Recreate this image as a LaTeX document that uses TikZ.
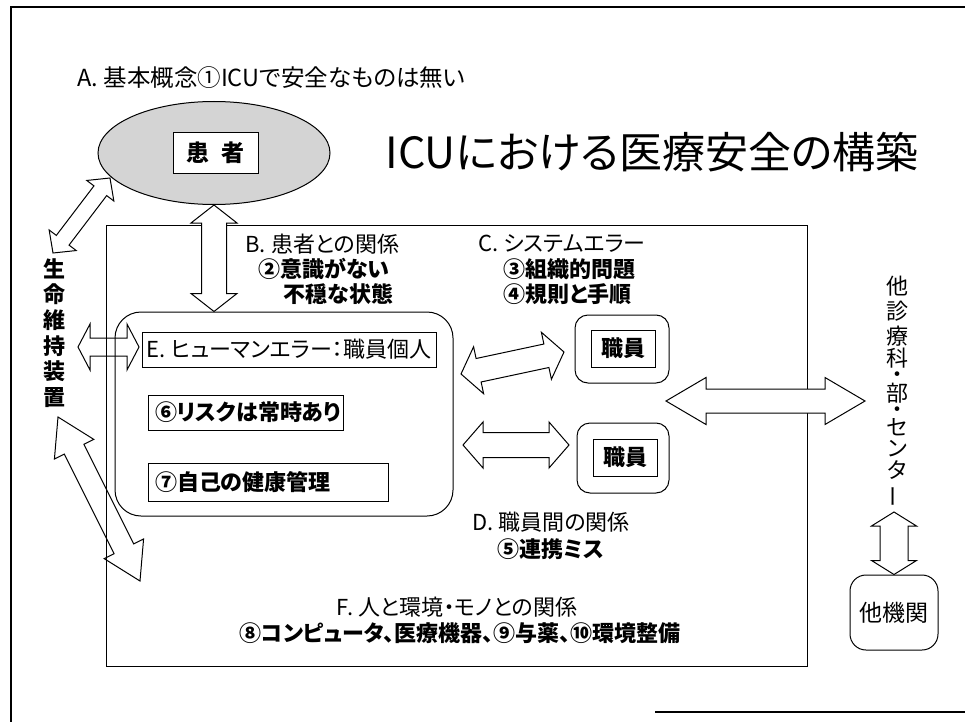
\documentclass[tikz,border=0pt]{standalone}
\usepackage{fontspec}
\setmainfont{Noto Sans CJK JP}[RawFeature=+palt]
\usetikzlibrary{calc,shapes.geometric}
\newcommand\fatarrow[6][]{%
  \path ($(#2)!#6!(#3)$) coordinate (fa1) ($(#3)!#6!(#2)$) coordinate (fa2);
  \draw[fatarrow style,#1] (#2) -- ($(fa1)!#5!90:(#3)$) -- ($(fa1)!#4!90:(#3)$)
    -- ($(fa2)!#4!-90:(#2)$) -- ($(fa2)!#5!-90:(#2)$) -- (#3)
    -- ($(fa2)!#5!90:(#2)$) -- ($(fa2)!#4!90:(#2)$)
    -- ($(fa1)!#4!-90:(#3)$) -- ($(fa1)!#5!-90:(#3)$) -- cycle;}
\begin{document}
\begin{tikzpicture}[x=1pt,y=-1pt,line width=1pt,
  body/.style={font=\fontsize{22}{26}\selectfont, inner sep=0pt},
  bbody/.style={font=\fontsize{22}{26}\selectfont\bfseries, inner sep=0pt},
  fatarrow style/.style={draw=black, line width=1pt, fill=white, line join=miter},
  boxed/.style={draw, fill=white, inner sep=0pt},
  rbox/.style={draw, rounded corners=#1, inner sep=0pt},
]
\useasboundingbox (0,0) rectangle (965,722);
\fill[white] (0,0) rectangle (965,722);
% slide border
\draw[line width=2pt] (965,7) -- (11,7) -- (11,722);
\draw[line width=1.6pt] (655,712) -- (965,712);

% titles
\node[anchor=west, inner sep=0pt, font=\fontsize{23.5}{24}\selectfont] (ta) at (77,78) {A. 基本概念①ICUで安全なものは無い};
\node[inner sep=0pt, font=\fontsize{43}{43}\selectfont] (title) at (652,152) {ICUにおける医療安全の構築};

% frame F
\node[draw, minimum width=701, minimum height=441, inner sep=0pt] (frame) at (456.5,445.5) {};

% patient
\node[ellipse, draw, fill=black!17, minimum width=232, minimum height=103, inner sep=0pt] (pat) at (214,153) {};
\node[boxed, minimum width=85, minimum height=40, font=\fontsize{23}{23}\selectfont\bfseries] (patbox) at (215.5,153) {患\hspace{0.55em}者};

% human error box E
\node[rbox=26, minimum width=338, minimum height=204] (ebox) at (284,414) {};
\node[draw, minimum width=294, minimum height=35, inner sep=0pt, body] (elab) at (289,349.5) {E. ヒューマンエラー：職員個人};
\node[draw, minimum width=195, minimum height=35, inner sep=0pt, bbody] (r6) at (245.5,412.5) {\makebox[181pt][l]{⑥リスクは常時あり}};
\node[draw, minimum width=240, minimum height=38, inner sep=0pt, bbody] (r7) at (268,482) {\makebox[226pt][l]{⑦自己の健康管理}};

% staff boxes
\node[rbox=13, minimum width=94, minimum height=68] (s1) at (622,349) {};
\node[draw, minimum width=64, minimum height=37, inner sep=0pt, bbody] (s1in) at (623,348.5) {職員};
\node[rbox=13, minimum width=92, minimum height=70] (s2) at (623,458) {};
\node[draw, minimum width=64, minimum height=37, inner sep=0pt, bbody] (s2in) at (625,457.5) {職員};

% other institution
\node[rbox=16, minimum width=88, minimum height=75, font=\fontsize{23}{23}\selectfont] (oth) at (894,612.5) {他機関};

% vertical labels
\node[align=center, inner sep=0pt, font=\fontsize{22}{25.6}\selectfont\bfseries] (lsd) at (54,333) {生\\命\\維\\持\\装\\置};
\node[align=center, inner sep=0pt, font=\fontsize{22}{24}\selectfont] (dept) at (897,392) {他\\[1pt]診\\[1pt]療\\[-2pt]科\\[-8pt]・\\[-5pt]部\\[-8pt]・\\[-6pt]セ\\[-3pt]ン\\[-2pt]タ\\[-1pt]\rotatebox[origin=c]{90}{ー}};

% text blocks
\node[anchor=west, body] (b1) at (245,244) {B. 患者との関係};
\node[anchor=west, bbody] (b2) at (258,269) {②意識がない};
\node[anchor=west, bbody] (b3) at (283,294) {不穏な状態};
\node[anchor=west, body] (c1) at (478,244) {C. システムエラー};
\node[anchor=west, bbody] (c2) at (503,269) {③組織的問題};
\node[anchor=west, bbody] (c3) at (503,294) {④規則と手順};
\node[anchor=west, body] (d1) at (472,522) {D. 職員間の関係};
\node[anchor=west, bbody] (d2) at (497,549) {⑤連携ミス};
\node[body] (f1) at (457,607) {F. 人と環境・モノとの関係};
\node[bbody] (f2) at (460,633) {⑧コンピュータ、医療機器、⑨与薬、⑩環境整備};

% arrow end points
\coordinate (ua1) at (pat.south);
\coordinate (ua2) at (pat.south |- ebox.north);
\coordinate (sa1) at (53,253);
\coordinate (sa2) at (110,178);
\coordinate (la1) at (78,347);
\coordinate (la2) at (139,347);
\coordinate (da1) at (58,417);
\coordinate (da2) at (140,581);
\coordinate (ea1) at (461,374);
\coordinate (ea2) at (564,352);
\coordinate (eb1) at (463,445);
\coordinate (eb2) at (569,445);
\coordinate (ba1) at (666,401);
\coordinate (ba2) at (865,401);
\coordinate (va1) at (894,512);
\coordinate (va2) at (oth.north);

% block arrows
\fatarrow{ua1}{ua2}{12.5pt}{23pt}{18pt}
\fatarrow{sa1}{sa2}{8pt}{17pt}{16pt}
\fatarrow[fill=none]{la1}{la2}{9pt}{23pt}{12pt}
\fatarrow[fill=none]{da1}{da2}{11pt}{22pt}{36pt}
\fatarrow{ea1}{ea2}{12pt}{24pt}{18pt}
\fatarrow{eb1}{eb2}{12.5pt}{23pt}{20pt}
\fatarrow{ba1}{ba2}{12pt}{23.5pt}{40pt}
\fatarrow{va1}{va2}{14pt}{22.5pt}{14pt}
\end{tikzpicture}
\end{document}
